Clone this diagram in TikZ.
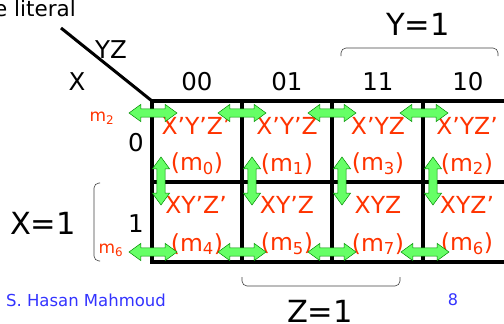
\documentclass[tikz,border=0pt]{standalone}
\usepackage{fontspec}
\setmainfont{DejaVu Sans}
\usepackage{tikz}
\usetikzlibrary{positioning, arrows.meta, shapes.arrows}
\definecolor{termred}{RGB}{255,51,0}
\definecolor{slideblue}{RGB}{51,51,255}
\definecolor{flipgreen}{RGB}{102,255,102}
\definecolor{flipedge}{RGB}{0,140,0}

\begin{document}
\begin{tikzpicture}[x=1pt, y=-1pt,
        every node/.style={inner sep=0pt},
        kline/.style={line width=3.3pt, line cap=rect},
        term/.style={text=termred, font=\fontsize{23.5}{27}\selectfont},
        lbl/.style={font=\fontsize{24.5}{28}\selectfont},
        big/.style={font=\fontsize{30.5}{34}\selectfont},
        brace/.style={draw=black!75, line width=0.6pt, rounded corners=5pt},
        hflip/.style={shape=double arrow, draw=flipedge, fill=flipgreen, line width=0.5pt,
            minimum height=48pt, inner sep=3.8pt, double arrow head extend=4.6pt,
            double arrow tip angle=72},
        vflip/.style={hflip, rotate=90}]
        \clip (0,0) rectangle (504,324);
        % map grid
        \coordinate (corner) at (152,101);
        \coordinate (tail) at (61,28);
        \draw[kline] (corner) -- (516,101);
        \draw[kline] (152,182) -- (516,182);
        \draw[kline] (152,262) -- (516,262);
        \draw[kline] (corner) -- (152,262);
        \draw[kline] (242,101) -- (242,262);
        \draw[kline] (332,101) -- (332,262);
        \draw[kline] (423,101) -- (423,262);
        \draw[line width=3pt] (tail) -- (corner);
        % headings
        \node[font=\fontsize{21.5}{24}\selectfont, anchor=east] (lit) at (76,8) {e literal};
        \node[lbl] (yz) at (111,50) {YZ};
        \node[lbl] (xx) at (77,82) {X};
        \node[lbl] (h00) at (197,82) {00};
        \node[lbl] (h01) at (287,82) {01};
        \node[lbl] (h11) at (378,82) {11};
        \node[lbl] (h10) at (468,82) {10};
        \node[lbl] (r0) at (136,143) {0};
        \node[lbl] (r1) at (136,224) {1};
        \node[big] (yone) at (418,24) {Y=1};
        \node[big] (xone) at (43,223) {X=1};
        \node[big] (zone) at (320,311) {Z=1};
        \draw[brace] (341,56) -- (341,48) -- (498,48) -- (498,56);
        \draw[brace] (100,183) -- (94,183) -- (94,261) -- (100,261);
        \draw[brace] (242,277) -- (242,286) -- (400,286) -- (400,277);
        \node[text=termred, font=\fontsize{17}{19}\selectfont] (wrap2) at (102,118) {m\textsubscript{2}};
        \node[text=termred, font=\fontsize{17}{19}\selectfont] (wrap6) at (111,250) {m\textsubscript{6}};
        % minterms
        \node[term] (t0) at (196,126) {X’Y’Z’};
        \node[term] (i0) at (197,164) {(m\textsubscript{0})};
        \node[term] (t1) at (287,126) {X’Y’Z};
        \node[term] (i1) at (287,164) {(m\textsubscript{1})};
        \node[term] (t3) at (378,126) {X’YZ};
        \node[term] (i3) at (378,164) {(m\textsubscript{3})};
        \node[term] (t2) at (467,126) {X’YZ’};
        \node[term] (i2) at (467,164) {(m\textsubscript{2})};
        \node[term] (t4) at (196,205) {XY’Z’};
        \node[term] (i4) at (197,244) {(m\textsubscript{4})};
        \node[term] (t5) at (287,205) {XY’Z};
        \node[term] (i5) at (287,244) {(m\textsubscript{5})};
        \node[term] (t7) at (378,205) {XYZ};
        \node[term] (i7) at (378,244) {(m\textsubscript{7})};
        \node[term] (t6) at (467,205) {XYZ’};
        \node[term] (i6) at (467,244) {(m\textsubscript{6})};
        % adjacency arrows
        \node[hflip] (ta) at (153,113) {};
        \node[hflip] (tb) at (242,113) {};
        \node[hflip] (tc) at (332,113) {};
        \node[hflip] (td) at (424,113) {};
        \node[hflip] (ba) at (153,252) {};
        \node[hflip] (bb) at (242,252) {};
        \node[hflip] (bc) at (332,252) {};
        \node[hflip] (bd) at (425,252) {};
        \node[vflip] (va) at (161,181) {};
        \node[vflip] (vb) at (252,181) {};
        \node[vflip] (vc) at (342,181) {};
        \node[vflip] (vd) at (433,181) {};
        \node[text=slideblue, font=\fontsize{16.5}{19}\selectfont] (author) at (86,300) {S. Hasan Mahmoud};
        \node[text=slideblue, font=\fontsize{16}{19}\selectfont] (page) at (453,300) {8};
    \end{tikzpicture}
\end{document}
